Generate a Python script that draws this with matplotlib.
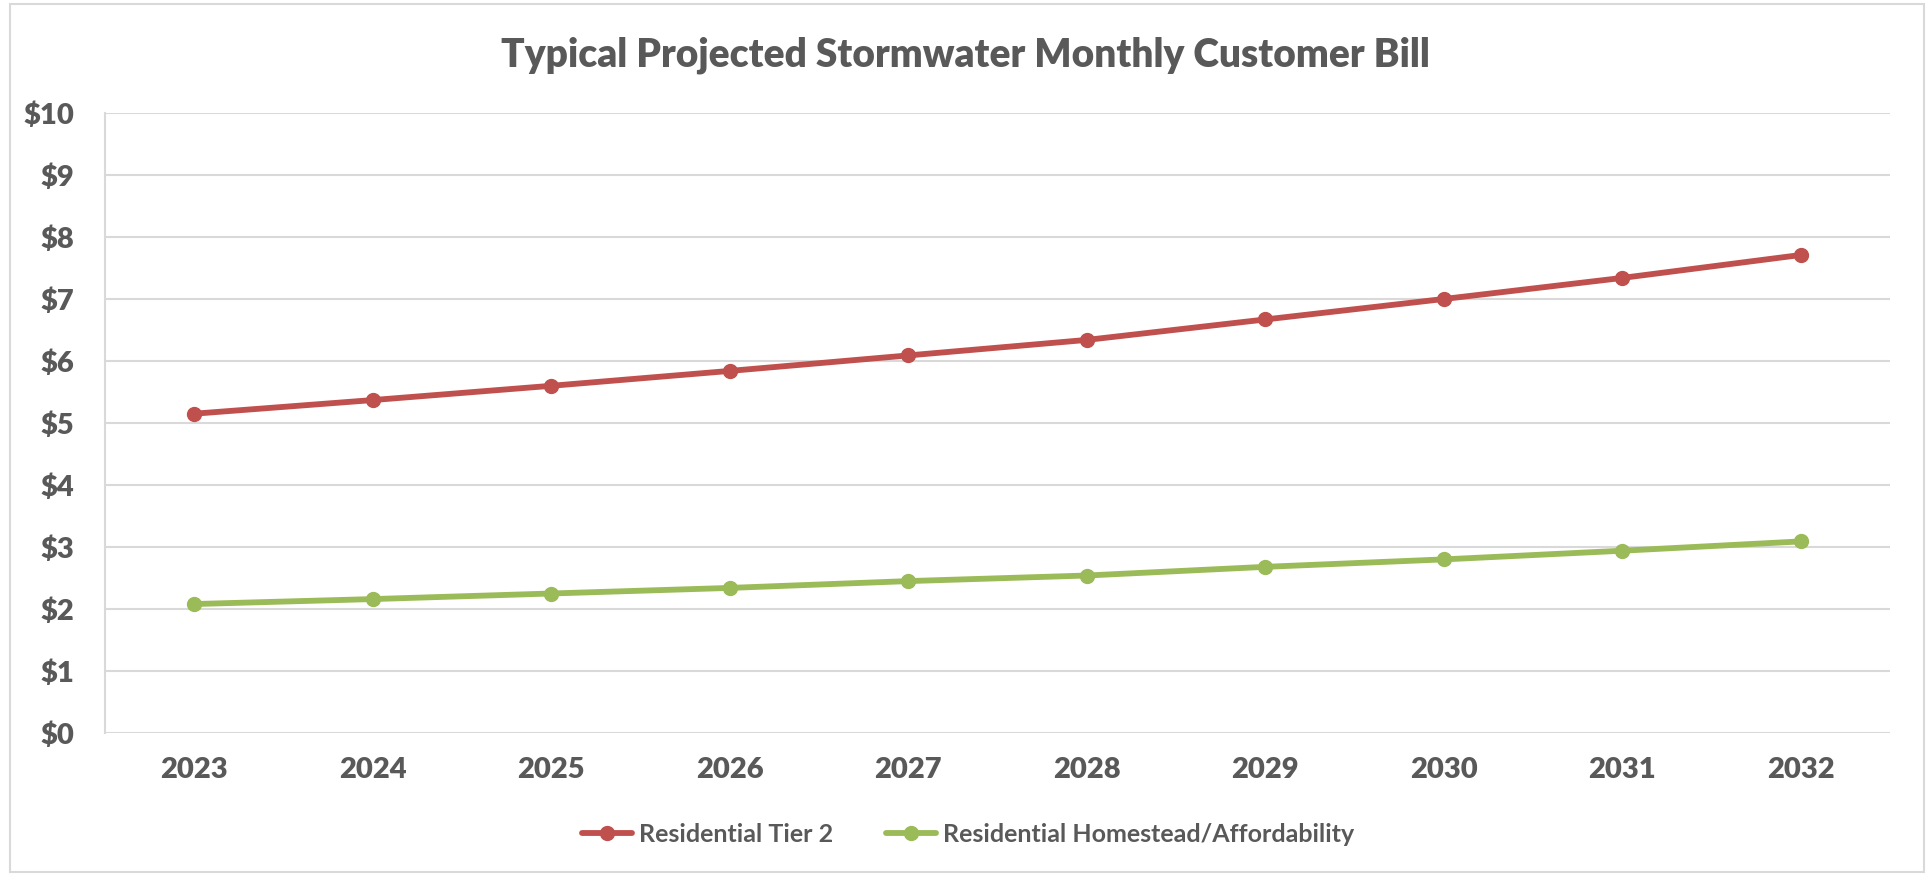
import matplotlib
matplotlib.use("Agg")
import matplotlib.pyplot as plt
from matplotlib.patches import Rectangle

years = ["2023", "2024", "2025", "2026", "2027", "2028", "2029", "2030", "2031", "2032"]
tier2 = [5.15, 5.37, 5.60, 5.84, 6.09, 6.34, 6.67, 7.00, 7.34, 7.71]
homestead = [2.08, 2.16, 2.25, 2.34, 2.45, 2.54, 2.68, 2.80, 2.94, 3.09]
series_names = ["Residential Tier 2", "Residential Homestead/Affordability"]
yticks = list(range(0, 11))
title = "Typical Projected Stormwater Monthly Customer Bill"

RED = "#C0504D"
GREEN = "#9BBB59"
TXT = "#595959"
GRID = "#D9D9D9"

plt.rcParams['font.family'] = ['Lato', 'DejaVu Sans']

fig = plt.figure(figsize=(19.31, 8.75), dpi=100)
ax = fig.add_axes([105/1931, 1-733/875, (1890-105)/1931, (733-113)/875])

x = list(range(len(years)))
ax.plot(x, tier2, color=RED, lw=4.2, marker='o', ms=10, label=series_names[0],
        solid_capstyle='round', zorder=3)
ax.plot(x, homestead, color=GREEN, lw=4.2, marker='o', ms=10, label=series_names[1],
        solid_capstyle='round', zorder=3)

ax.set_xlim(-0.5, len(years) - 0.5)
ax.set_ylim(0, 10)
ax.set_yticks(yticks)
ax.set_yticklabels([f"${v}" for v in yticks])
ax.set_xticks(x)
ax.set_xticklabels(years)
ax.grid(axis='y', color=GRID, lw=1.5)
ax.set_axisbelow(True)
for s in ['top', 'right', 'bottom']:
    ax.spines[s].set_visible(False)
ax.spines['left'].set_color(GRID)
ax.spines['left'].set_linewidth(1.5)
ax.tick_params(axis='both', length=0, colors=TXT, labelsize=21)
ax.tick_params(axis='y', pad=22)
ax.tick_params(axis='x', pad=17)
for lbl in ax.get_xticklabels() + ax.get_yticklabels():
    lbl.set_fontweight('heavy')

fig.text(0.5, 1-55/875, title, ha='center', va='center', fontsize=28,
         fontweight='heavy', color=TXT)

leg = fig.legend(loc='center', bbox_to_anchor=(968/1931, 1-834/875), ncol=2,
                 frameon=False, handlelength=2.0, handletextpad=0.3,
                 columnspacing=2.1, prop={'weight': 'bold', 'size': 18})
for t in leg.get_texts():
    t.set_color(TXT)

fig.patches.append(Rectangle((10/1931, 3/875), (1924-10)/1931, (871-3)/875,
                             transform=fig.transFigure, fill=False,
                             edgecolor=GRID, lw=1.5))

fig.savefig("out.png", dpi=100)
